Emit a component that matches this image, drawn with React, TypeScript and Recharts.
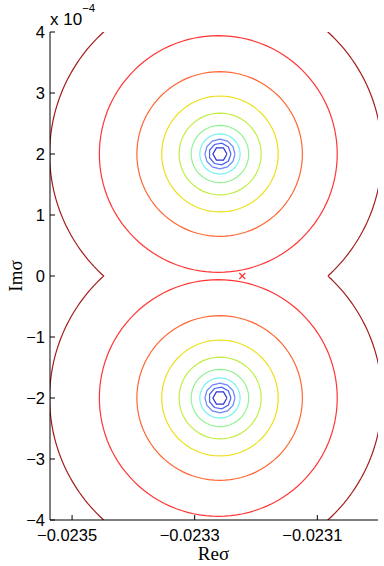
import { ComposedChart, XAxis, YAxis, Line, Scatter } from "recharts";

// axis limits (Im axis is in units of 1e-4)
const reDomain = [-0.023536, -0.023001];
const imDomain = [-4, 4];
const reTicks = [-0.0235, -0.0233, -0.0231];
const imTicks = [-4, -3, -2, -1, 0, 1, 2, 3, 4];

// the two centres of the contour rings (Im, x1e-4)
const poleIm = [2, -2];

// contour levels, outermost first
const levelColors = [
  "#a31c1c",
  "#ff3535",
  "#ff6633",
  "#ece01a",
  "#c0ee44",
  "#92f294",
  "#78f2f2",
  "#6a86ff",
  "#4a62f2",
  "#3030d4",
];
const levelRadius = [2.71, 1.94, 1.35, 0.95, 0.67, 0.47, 0.33, 0.245, 0.18, 0.115];
const levelCenterRe = [
  -0.0232656, -0.0232615, -0.0232593, -0.0232588, -0.0232585, -0.0232588, -0.0232588,
  -0.0232588, -0.0232588, -0.0232588,
];
const levelSegments = [180, 120, 96, 72, 60, 40, 24, 12, 9, 6];

// marked point
const markRe = [-0.0232224];
const markIm = [0];

type Pt = { x: number; y: number };

function arc(cx: number, cy: number, r: number, n: number, from: number, to: number): Pt[] {
  const pts: Pt[] = [];
  for (let i = 0; i <= n; i++) {
    const t = from + ((to - from) * i) / n;
    pts.push({ x: cx + r * 1e-4 * Math.cos(t), y: cy + r * Math.sin(t) });
  }
  return pts;
}

// outermost level: the two rings merge into one curve with cusps on the real axis
function outerCurve(): Pt[] {
  const r = levelRadius[0];
  const cx = levelCenterRe[0];
  const a = Math.asin(poleIm[0] / r);
  const upper = arc(cx, poleIm[0], r, levelSegments[0], -a, Math.PI + a);
  const lower = arc(cx, poleIm[1], r, levelSegments[0], Math.PI - a, 2 * Math.PI + a);
  return [...upper, ...lower];
}

const contours: { key: string; color: string; data: Pt[] }[] = [
  { key: "l0", color: levelColors[0], data: outerCurve() },
];
for (let i = 1; i < levelRadius.length; i++) {
  poleIm.forEach((im, j) => {
    contours.push({
      key: `l${i}-${j}`,
      color: levelColors[i],
      data: arc(levelCenterRe[i], im, levelRadius[i], levelSegments[i], 0, 2 * Math.PI),
    });
  });
}

const marks = markRe.map((x, i) => ({ x, y: markIm[i] }));

const fmt = (v: number, d: number) => v.toFixed(d).replace("-", "\u2212");

const XTick = ({ x, y, payload }: any) => (
  <text x={x - 5} y={y} dy="0.71em" textAnchor="middle" fontSize={16.5} fill="#000"
    fontFamily="Liberation Sans, Arial, sans-serif">
    {fmt(payload.value, 4)}
  </text>
);

const YTick = ({ x, y, payload }: any) => (
  <text x={x} y={y} dy="0.355em" textAnchor="end" fontSize={16.5} fill="#000"
    fontFamily="Liberation Sans, Arial, sans-serif">
    {fmt(payload.value, 0)}
  </text>
);

const NoTick = () => <g />;

const Cross = ({ cx, cy }: any) => (
  <path
    d={`M${cx - 3},${cy - 3}L${cx + 3},${cy + 3}M${cx - 3},${cy + 3}L${cx + 3},${cy - 3}`}
    stroke="#ff3333"
    strokeWidth={1.2}
    fill="none"
  />
);

export default function App() {
  return (
    <div style={{ position: "absolute", left: 0, top: 0, width: 384, height: 566, background: "#fff" }}>
      <ComposedChart width={384} height={566} margin={{ top: 32, right: 6, bottom: 0, left: 0 }}>
        <XAxis
          dataKey="x"
          type="number"
          domain={reDomain}
          allowDataOverflow
          ticks={reTicks}
          height={46}
          tickSize={-5}
          tickMargin={14}
          tick={XTick}
          stroke="#000"
        />
        <XAxis
          xAxisId="top"
          orientation="top"
          dataKey="x"
          type="number"
          domain={reDomain}
          allowDataOverflow
          ticks={reTicks}
          height={0}
          tickSize={-5}
          tick={NoTick}
          stroke="#000"
        />
        <YAxis
          dataKey="y"
          type="number"
          domain={imDomain}
          allowDataOverflow
          ticks={imTicks}
          width={50}
          tickSize={-5}
          tickMargin={10}
          tick={YTick}
          stroke="#000"
        />
        <YAxis
          yAxisId="right"
          orientation="right"
          type="number"
          domain={imDomain}
          allowDataOverflow
          ticks={imTicks}
          width={0}
          tickSize={-5}
          tick={NoTick}
          stroke="#000"
        />
        {contours.map((c) => (
          <Line
            key={c.key}
            data={c.data}
            dataKey="y"
            type="linear"
            stroke={c.color}
            strokeWidth={1.2}
            dot={false}
            activeDot={false}
            isAnimationActive={false}
          />
        ))}
        <Scatter data={marks} dataKey="y" shape={Cross} isAnimationActive={false} />
      </ComposedChart>
      <svg width={384} height={566} style={{ position: "absolute", left: 0, top: 0, pointerEvents: "none" }}>
        <text x={50} y={25} fontSize={17} fontFamily="Liberation Sans, Arial, sans-serif" fill="#000">
          x 10
          <tspan fontSize={11.5} dy={-13}>{"\u22124"}</tspan>
        </text>
        <text x={213.5} y={560} textAnchor="middle" fontSize={19} fontFamily="Liberation Serif, Times New Roman, serif" fill="#000">
          Reσ
        </text>
        <text transform="translate(21.5,276) rotate(-90)" textAnchor="middle" fontSize={19}
          fontFamily="Liberation Serif, Times New Roman, serif" fill="#000">
          Imσ
        </text>
      </svg>
    </div>
  );
}
